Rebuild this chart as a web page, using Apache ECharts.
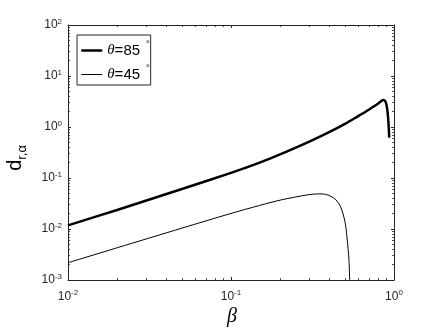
<!DOCTYPE html>
<html>
<head>
<meta charset="utf-8">
<script src="https://cdn.jsdelivr.net/npm/echarts@6/dist/echarts.min.js"></script>
<style>
  html, body { margin: 0; padding: 0; background: #fff; }
  #chart { width: 436px; height: 332px; }
</style>
</head>
<body>
<div id="chart"></div>
<script>
// beta values and d_{r,alpha}
const beta85 = [0.01, 0.02, 0.05, 0.1, 0.15, 0.2, 0.3, 0.4, 0.5, 0.6, 0.7, 0.8, 0.86, 0.885, 0.905, 0.922, 0.935];
const d85    = [0.0118, 0.0236, 0.061, 0.126, 0.2, 0.29, 0.51, 0.79, 1.15, 1.62, 2.18, 2.88, 3.38, 3.2, 2.45, 1.4, 0.62];

const beta45 = [0.01, 0.02, 0.05, 0.1, 0.15, 0.2, 0.25, 0.3, 0.35, 0.38, 0.41, 0.44, 0.47, 0.5, 0.515, 0.53, 0.537];
const d45    = [0.00218, 0.00428, 0.0104, 0.0202, 0.029, 0.0368, 0.0425, 0.0472, 0.0489, 0.0478, 0.0437, 0.0375, 0.0275, 0.0140, 0.0068, 0.0023, 0.0005];

const seriesNames = ['85', '45'];
const lineWidths = [2.5, 1];

// axis ranges (decades)
const xRange = [0.01, 1];
const yRange = [0.001, 100];

// minor ticks 2..9 in each decade
function minorTicks(lo, hi) {
  const out = [];
  for (let d = lo; d < hi; d *= 10) {
    for (let k = 2; k <= 9; k++) out.push(+(k * d).toPrecision(3));
  }
  return out;
}

const axisColor = '#262626';
const labelRich = {
  b: { fontSize: 12, fontFamily: 'Liberation Sans', color: '#262626' },
  s: { fontSize: 8, fontFamily: 'Liberation Sans', color: '#262626', verticalAlign: 'bottom', padding: [0, 0, 7, 0] }
};
function expLabel(v) {
  const e = Math.round(Math.log10(v));
  return '{b|10}{s|' + e + '}';
}

function logAxis(range, pos, opts) {
  return Object.assign({
    type: 'log',
    logBase: 10,
    min: range[0],
    max: range[1],
    position: pos,
    splitLine: { show: false },
    axisLine: { show: true, onZero: false, lineStyle: { color: axisColor, width: 1 } },
    axisTick: { show: true, inside: true, length: 3, lineStyle: { color: axisColor } },
    axisLabel: { show: false }
  }, opts);
}

function minorAxis(range, pos, ticks) {
  return logAxis(range, pos, {
    axisLine: { show: false },
    axisTick: { show: true, inside: true, length: 2, customValues: ticks, lineStyle: { color: axisColor, width: 0.8 } }
  });
}

const chart = echarts.init(document.getElementById('chart'));

chart.setOption({
  animation: false,
  grid: { left: 68, right: 42, top: 25, bottom: 52 },
  legend: {
    orient: 'vertical',
    left: 77,
    top: 35,
    data: seriesNames.map((n, i) => ({ name: n, lineStyle: { width: lineWidths[i], color: '#000' } })),
    backgroundColor: '#fff',
    borderColor: '#262626',
    borderWidth: 1,
    borderRadius: 0,
    padding: [5, 1, 3, 3],
    itemGap: 6,
    itemWidth: 21,
    itemHeight: 12,
    itemStyle: { opacity: 0 },
    formatter: function (name) {
      return '{t|θ}{n|=' + name + '}{g|°}';
    },
    textStyle: {
      rich: {
        t: { fontSize: 15, fontStyle: 'italic', fontFamily: 'Liberation Serif', color: '#000' },
        n: { fontSize: 15, fontFamily: 'Liberation Sans', color: '#000' },
        g: { fontSize: 9, fontFamily: 'Liberation Sans', color: '#000', verticalAlign: 'bottom', padding: [0, 0, 12, 6] }
      }
    }
  },
  xAxis: [
    logAxis(xRange, 'bottom', {
      axisLabel: { show: true, margin: 9, formatter: expLabel, rich: labelRich }
    }),
    minorAxis(xRange, 'bottom', minorTicks(xRange[0], xRange[1])),
    logAxis(xRange, 'top', {}),
    minorAxis(xRange, 'top', minorTicks(xRange[0], xRange[1]))
  ],
  yAxis: [
    logAxis(yRange, 'left', {
      axisLabel: { show: true, margin: 6, formatter: expLabel, rich: labelRich }
    }),
    minorAxis(yRange, 'left', minorTicks(yRange[0], yRange[1])),
    logAxis(yRange, 'right', {}),
    minorAxis(yRange, 'right', minorTicks(yRange[0], yRange[1]))
  ],
  graphic: [
    {
      type: 'text',
      left: 5,
      top: 145,
      rotation: Math.PI / 2,
      originX: 0,
      originY: 0,
      style: {
        text: '{d|d}{s|r,α}',
        rich: {
          d: { fontSize: 20, fontFamily: 'Liberation Sans', fill: '#000' },
          s: { fontSize: 13, fontFamily: 'Liberation Sans', fill: '#000', verticalAlign: 'bottom', padding: [0, 0, -4, 0] }
        }
      }
    },
    {
      type: 'text',
      left: 227,
      top: 307,
      style: {
        text: 'β',
        fontSize: 20,
        fontStyle: 'italic',
        fontFamily: 'Liberation Serif',
        fill: '#000'
      }
    }
  ],
  series: [
    {
      name: seriesNames[0],
      type: 'line',
      data: beta85.map((b, i) => [b, d85[i]]),
      symbol: 'none',
      smooth: 0.3,
      clip: true,
      lineStyle: { color: '#000', width: lineWidths[0] },
      itemStyle: { color: '#000' }
    },
    {
      name: seriesNames[1],
      type: 'line',
      data: beta45.map((b, i) => [b, d45[i]]),
      symbol: 'none',
      smooth: 0.3,
      clip: true,
      lineStyle: { color: '#000', width: lineWidths[1] },
      itemStyle: { color: '#000' }
    }
  ]
});
</script>
</body>
</html>
